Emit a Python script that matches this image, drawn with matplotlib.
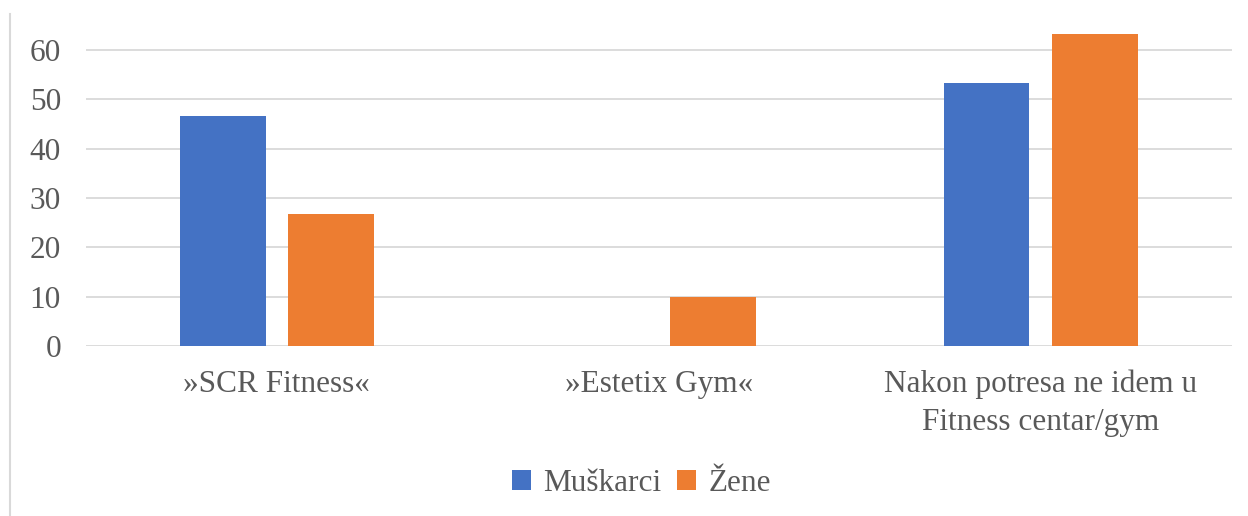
import matplotlib.pyplot as plt
from matplotlib.lines import Line2D
import numpy as np

categories = ["»SCR Fitness«", "»Estetix Gym«", "Nakon potresa ne idem u\nFitness centar/gym"]
muskarci = [46.7, 0, 53.3]
zene = [26.7, 10, 63.3]
yticks = [0, 10, 20, 30, 40, 50, 60]

plt.rcParams['font.family'] = ['Liberation Serif', 'DejaVu Serif']
txt = '#595959'

fig = plt.figure(figsize=(12.48, 5.16), dpi=100)
ax = fig.add_axes([0.0689, 0.3295, 0.918, 0.6214])

x = np.arange(len(categories))
w = 0.225
ax.bar(x - 0.142, muskarci, w, color='#4472c4', label='Muškarci', zorder=3)
ax.bar(x + 0.142, zene, w, color='#ed7d31', label='Žene', zorder=3)

ax.set_xlim(-0.5, 2.5)
ax.set_ylim(0, 65)
ax.set_yticks(yticks)
ax.set_xticks(x)
ax.set_xticklabels(categories, linespacing=1.4)
ax.grid(axis='y', color='#d9d9d9', linewidth=1.3, zorder=0)
for s in ax.spines.values():
    s.set_visible(False)
ax.tick_params(length=0, labelsize=22.5, colors=txt)
ax.tick_params(axis='x', pad=17)
ax.tick_params(axis='y', pad=18)

fig.legend(loc='center', bbox_to_anchor=(0.514, 0.063), ncol=2, frameon=False,
           fontsize=22.5, labelcolor=txt, handlelength=0.6, handleheight=0.6,
           handletextpad=0.4, columnspacing=0.5)

fig.add_artist(Line2D([0.008, 0.008], [0, 0.973], transform=fig.transFigure,
                      color='#d9d9d9', linewidth=1.5))

fig.savefig('out.png', dpi=100)
